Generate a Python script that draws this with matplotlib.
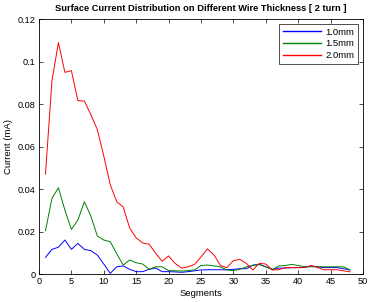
import matplotlib
matplotlib.use("Agg")
import matplotlib.pyplot as plt

plt.rcParams['font.family'] = ['Liberation Sans', 'DejaVu Sans']

segments = list(range(1, 49))
cur_10 = [0.0078, 0.0116, 0.0126, 0.0160, 0.0116, 0.0144, 0.0116, 0.0110, 0.0089, 0.0047,
          0.0003, 0.0034, 0.0038, 0.0022, 0.0011, 0.0011, 0.0022, 0.0028, 0.0011, 0.0011,
          0.0010, 0.0008, 0.0011, 0.0015, 0.0019, 0.0020, 0.0020, 0.0020, 0.0020, 0.0022,
          0.0025, 0.0025, 0.0042, 0.0045, 0.0034, 0.0022, 0.0028, 0.0028, 0.0030, 0.0030,
          0.0032, 0.0038, 0.0034, 0.0030, 0.0030, 0.0030, 0.0025, 0.0019]
cur_15 = [0.0204, 0.0356, 0.0406, 0.0300, 0.0210, 0.0254, 0.0340, 0.0273, 0.0179, 0.0160,
          0.0152, 0.0095, 0.0042, 0.0066, 0.0053, 0.0047, 0.0022, 0.0034, 0.0034, 0.0016,
          0.0015, 0.0014, 0.0016, 0.0019, 0.0040, 0.0042, 0.0038, 0.0034, 0.0019, 0.0016,
          0.0022, 0.0034, 0.0040, 0.0045, 0.0034, 0.0020, 0.0038, 0.0040, 0.0045, 0.0040,
          0.0034, 0.0034, 0.0034, 0.0034, 0.0034, 0.0034, 0.0034, 0.0019]
cur_20 = [0.0470, 0.0910, 0.1089, 0.0949, 0.0957, 0.0816, 0.0814, 0.0750, 0.0680, 0.0555,
          0.0420, 0.0340, 0.0315, 0.0216, 0.0170, 0.0146, 0.0140, 0.0098, 0.0060, 0.0085,
          0.0050, 0.0028, 0.0034, 0.0045, 0.0080, 0.0118, 0.0090, 0.0040, 0.0030, 0.0063,
          0.0069, 0.0050, 0.0019, 0.0050, 0.0047, 0.0019, 0.0020, 0.0030, 0.0030, 0.0030,
          0.0030, 0.0040, 0.0030, 0.0020, 0.0020, 0.0020, 0.0015, 0.0010]
labels = ['1.0mm', '1.5mm', '2.0mm']
colors = ['#0000ff', '#008000', '#ff0000']

fig = plt.figure(figsize=(3.70, 3.02), dpi=100)
ax = fig.add_axes([0.1054, 0.0927, 0.8756, 0.8443])
for ys, lab, c in zip([cur_10, cur_15, cur_20], labels, colors):
    ax.plot(segments, ys, color=c, lw=0.7, label=lab)

ax.set_xlim(0, 50)
ax.set_ylim(0, 0.12)
ax.set_xticks(range(0, 51, 5))
ax.set_yticks([0, 0.02, 0.04, 0.06, 0.08, 0.1, 0.12])
ax.set_yticklabels(['0', '0.02', '0.04', '0.06', '0.08', '0.1', '0.12'])
ax.tick_params(direction='in', top=True, right=True, labelsize=6.6, length=3, width=0.5, pad=2.5)
for s in ax.spines.values():
    s.set_linewidth(0.6)
ax.set_xlabel('Segments', fontsize=6.8, labelpad=2)
ax.set_ylabel('Current (mA)', fontsize=6.8, labelpad=3)
ax.set_title('Surface Current Distribution on Different Wire Thickness [ 2 turn ]',
             fontsize=6.7, fontweight='bold', pad=5.5)
leg = ax.legend(loc='upper right', fontsize=6.8, frameon=True, fancybox=False,
                edgecolor='black', handlelength=4.0, handletextpad=0.5,
                borderaxespad=0.5, labelspacing=0.3, borderpad=0.4)
leg.get_frame().set_linewidth(0.6)
for h in leg.get_lines():
    h.set_linewidth(1.0)

fig.savefig('out.png', dpi=100)
